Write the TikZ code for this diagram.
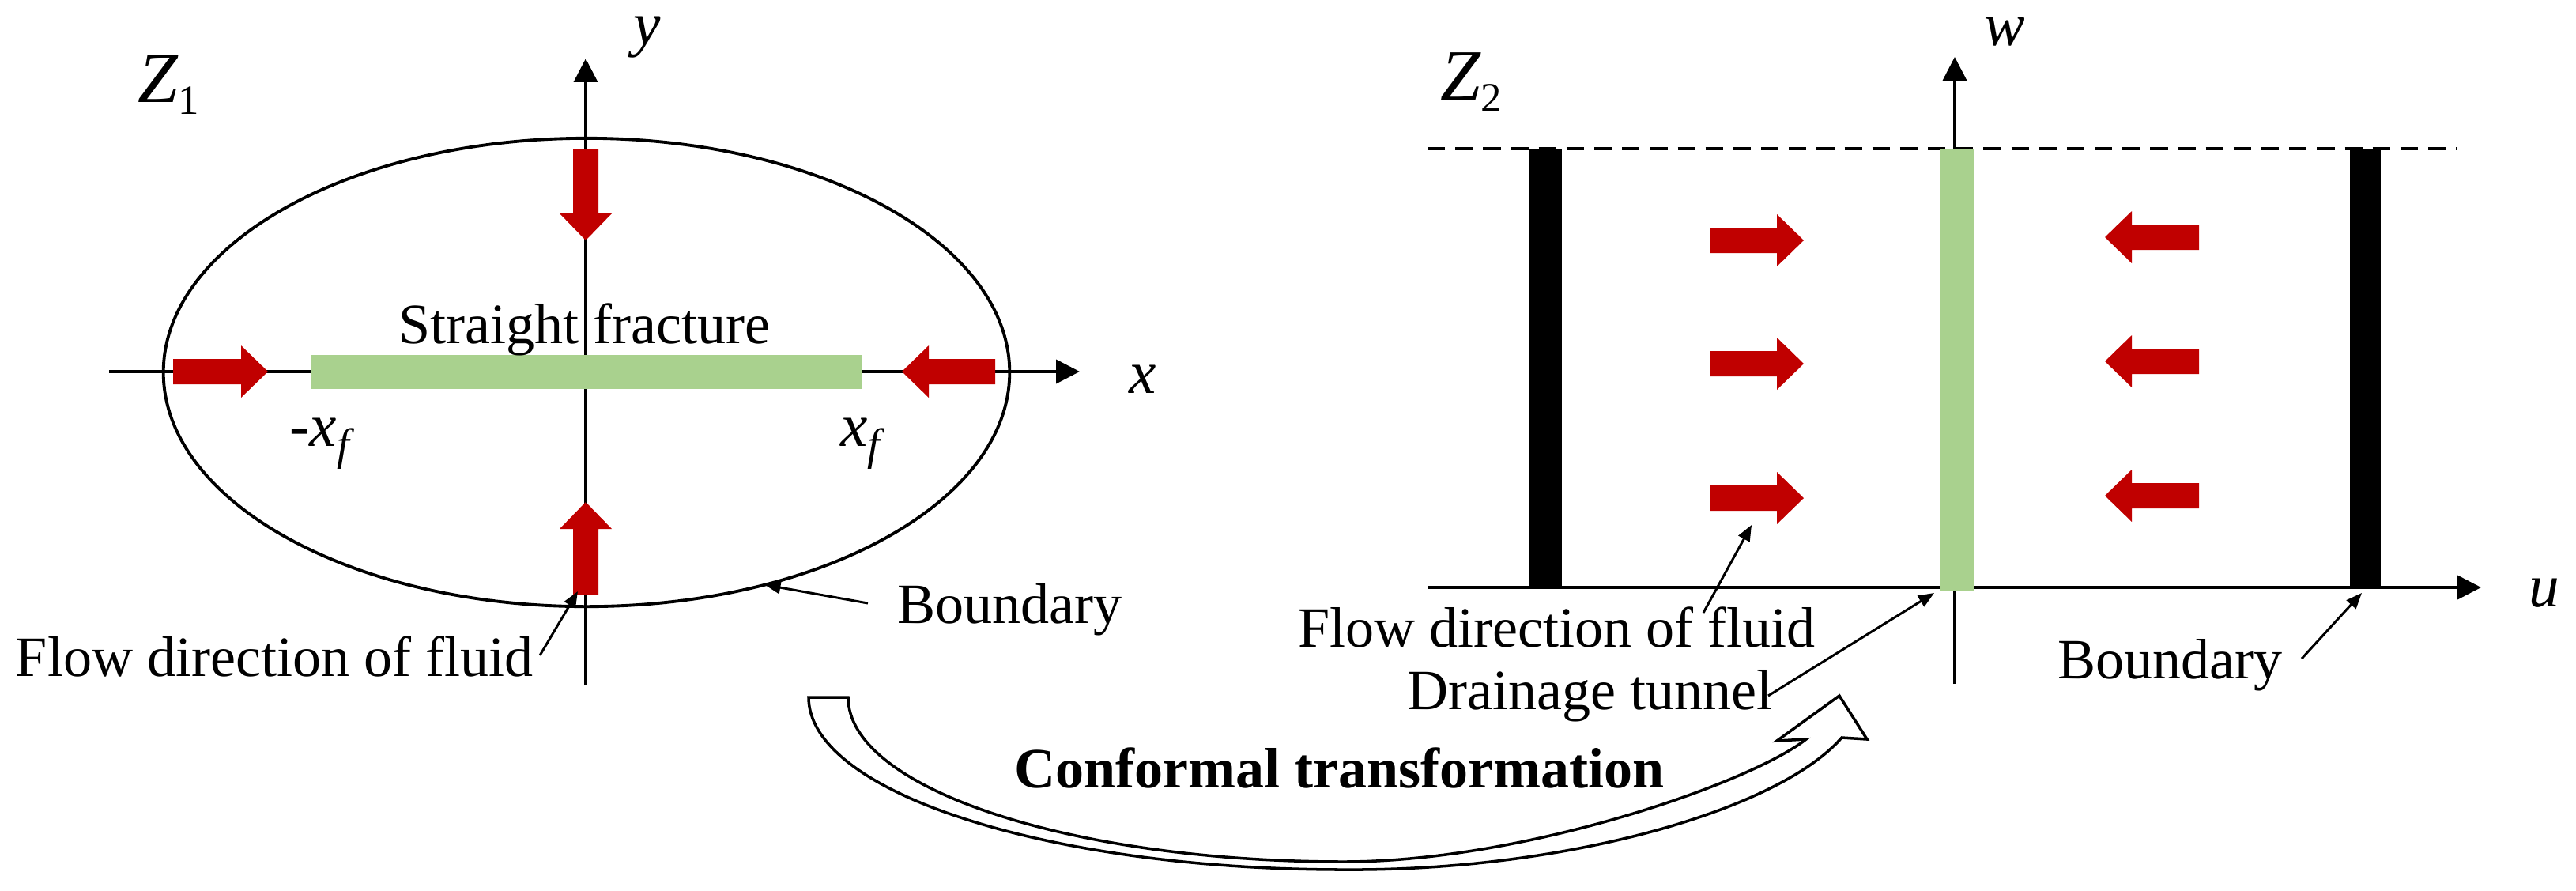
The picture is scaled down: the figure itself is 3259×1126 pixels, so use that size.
\documentclass[tikz,border=0pt]{standalone}
\usepackage{fontspec}
\setmainfont{Liberation Serif}
\usetikzlibrary{arrows.meta,calc,shapes.geometric}
\definecolor{flowred}{HTML}{C00000}
\definecolor{fracgreen}{HTML}{A9D18E}
\newcommand{\blockarrow}[3]{\fill[flowred, shift={(#1)}, rotate=#2] (0,-16) -- (#3-34,-16) -- (#3-34,-33) -- (#3,0) -- (#3-34,33) -- (#3-34,16) -- (0,16) -- cycle;}
\begin{document}
\begin{tikzpicture}[x=0.01cm,y=-0.01cm,
  every node/.style={inner sep=0pt, outer sep=0pt, font=\fontsize{20.5}{24}\selectfont},
  axisline/.style={line width=1.1pt, -{Triangle[length=8.5pt,width=8.5pt]}},
  plainline/.style={line width=1.1pt},
  pointer/.style={line width=0.85pt, -{Triangle[length=5.7pt,width=4.5pt]}},
  lbl/.style={anchor=base west},
  varlbl/.style={font=\fontsize{22}{26}\selectfont\itshape},
  bar/.style={draw=none, minimum width=0pt, minimum height=0pt}]
\useasboundingbox (0,0) rectangle (3259,1126);

% ===== left panel =====
\node[ellipse, draw, line width=1.1pt, minimum width=10.7cm, minimum height=5.92cm] (bnd) at (742,471) {};
\coordinate (xa0) at (138,470);
\coordinate (xa1) at (1366,470);
\coordinate (ya0) at (741,867);
\coordinate (ya1) at (741,74);
\draw[axisline] (xa0) -- (xa1);
\draw[axisline] (ya0) -- (ya1);
\fill[fracgreen] (394,449) rectangle (1091,492);
\coordinate (fracc) at (742,470);

\blockarrow{219,470}{0}{120}
\blockarrow{1259,470}{180}{118}
\blockarrow{741,189}{-90}{115}
\blockarrow{741,752}{90}{117}

\node[lbl] (z1) at (174,129) {\fontsize{26}{30}\selectfont\textit{Z}\raisebox{-4.3pt}{\fontsize{15}{18}\selectfont 1}};
\node[varlbl] (ylab) at (819,47) {y};
\node[varlbl] (xlab) at (1446,480) {x};
\node[lbl] (sf) at (504,434) {Straight fracture};
\node[lbl] (mxf) at (366,564) {\fontsize{22}{26}\selectfont-\textit{x}\raisebox{-5pt}{\fontsize{16}{18}\selectfont\textit{f}}};
\node[lbl] (pxf) at (1063,564) {\fontsize{22}{26}\selectfont\textit{x}\raisebox{-5pt}{\fontsize{16}{18}\selectfont\textit{f}}};
\node[lbl] (bndlbl) at (1135,788) {Boundary};
\node[lbl] (flowL) at (20,855) {Flow direction of fluid};
\coordinate (bndfrom) at (1098,763);
\draw[pointer] (bndfrom) -- (bnd.-50);
\coordinate (flowLfrom) at (683,829);
\coordinate (flowLto) at (731,748);
\draw[pointer] (flowLfrom) -- (flowLto);

% ===== right panel =====
\coordinate (dl0) at (1806,188);
\coordinate (dl1) at (3108,188);
\draw[line width=1.1pt, dash pattern=on 6.3pt off 3.7pt] (dl0) -- (dl1);
\coordinate (ua0) at (1806,743);
\coordinate (ua1) at (3139,743);
\coordinate (wa0) at (2473,865);
\coordinate (wa1) at (2473,72);
\draw[axisline] (ua0) -- (ua1);
\draw[axisline] (wa0) -- (wa1);
\fill[black] (1935,188) rectangle (1976,745);
\fill[black] (2973,188) rectangle (3012,745);
\fill[fracgreen] (2455,188) rectangle (2497,747);

\blockarrow{2163,304}{0}{119}
\blockarrow{2163,460}{0}{119}
\blockarrow{2163,630}{0}{119}
\blockarrow{2782,300}{180}{119}
\blockarrow{2782,457}{180}{119}
\blockarrow{2782,627}{180}{119}

\node[lbl] (z2) at (1822,126) {\fontsize{26}{30}\selectfont\textit{Z}\raisebox{-4.3pt}{\fontsize{15}{18}\selectfont 2}};
\node[varlbl] (wlab) at (2536,40) {w};
\node[varlbl] (ulab) at (3219,750) {u};
\node[lbl] (flowR) at (1642,818) {Flow direction of fluid};
\node[lbl] (drain) at (1780,897) {Drainage tunnel};
\node[lbl] (bndR) at (2603,858) {Boundary};
\coordinate (flowRfrom) at (2155,775);
\coordinate (flowRto) at (2216,664);
\draw[pointer] (flowRfrom) -- (flowRto);
\coordinate (drainfrom) at (2237,880);
\coordinate (drainto) at (2447,750);
\draw[pointer] (drainfrom) -- (drainto);
\coordinate (bndRfrom) at (2912,833);
\coordinate (bndRto) at (2988,750);
\draw[pointer] (bndRfrom) -- (bndRto);

% ===== conformal transformation arrow =====
\draw[line width=1pt, fill=white, line join=miter]
  (1023,882) .. controls (1023,1002) and (1326,1100) .. (1700,1100)
  .. controls (1980,1102) and (2250,1025) .. (2330,933)
  -- (2362,935) -- (2327,880) -- (2248,937) -- (2285,935)
  .. controls (2215,990) and (1930,1090) .. (1700,1090)
  .. controls (1354,1090) and (1073,997) .. (1073,882) -- cycle;
\node[lbl] (ct) at (1283,996) {\bfseries Conformal transformation};
\end{tikzpicture}
\end{document}
